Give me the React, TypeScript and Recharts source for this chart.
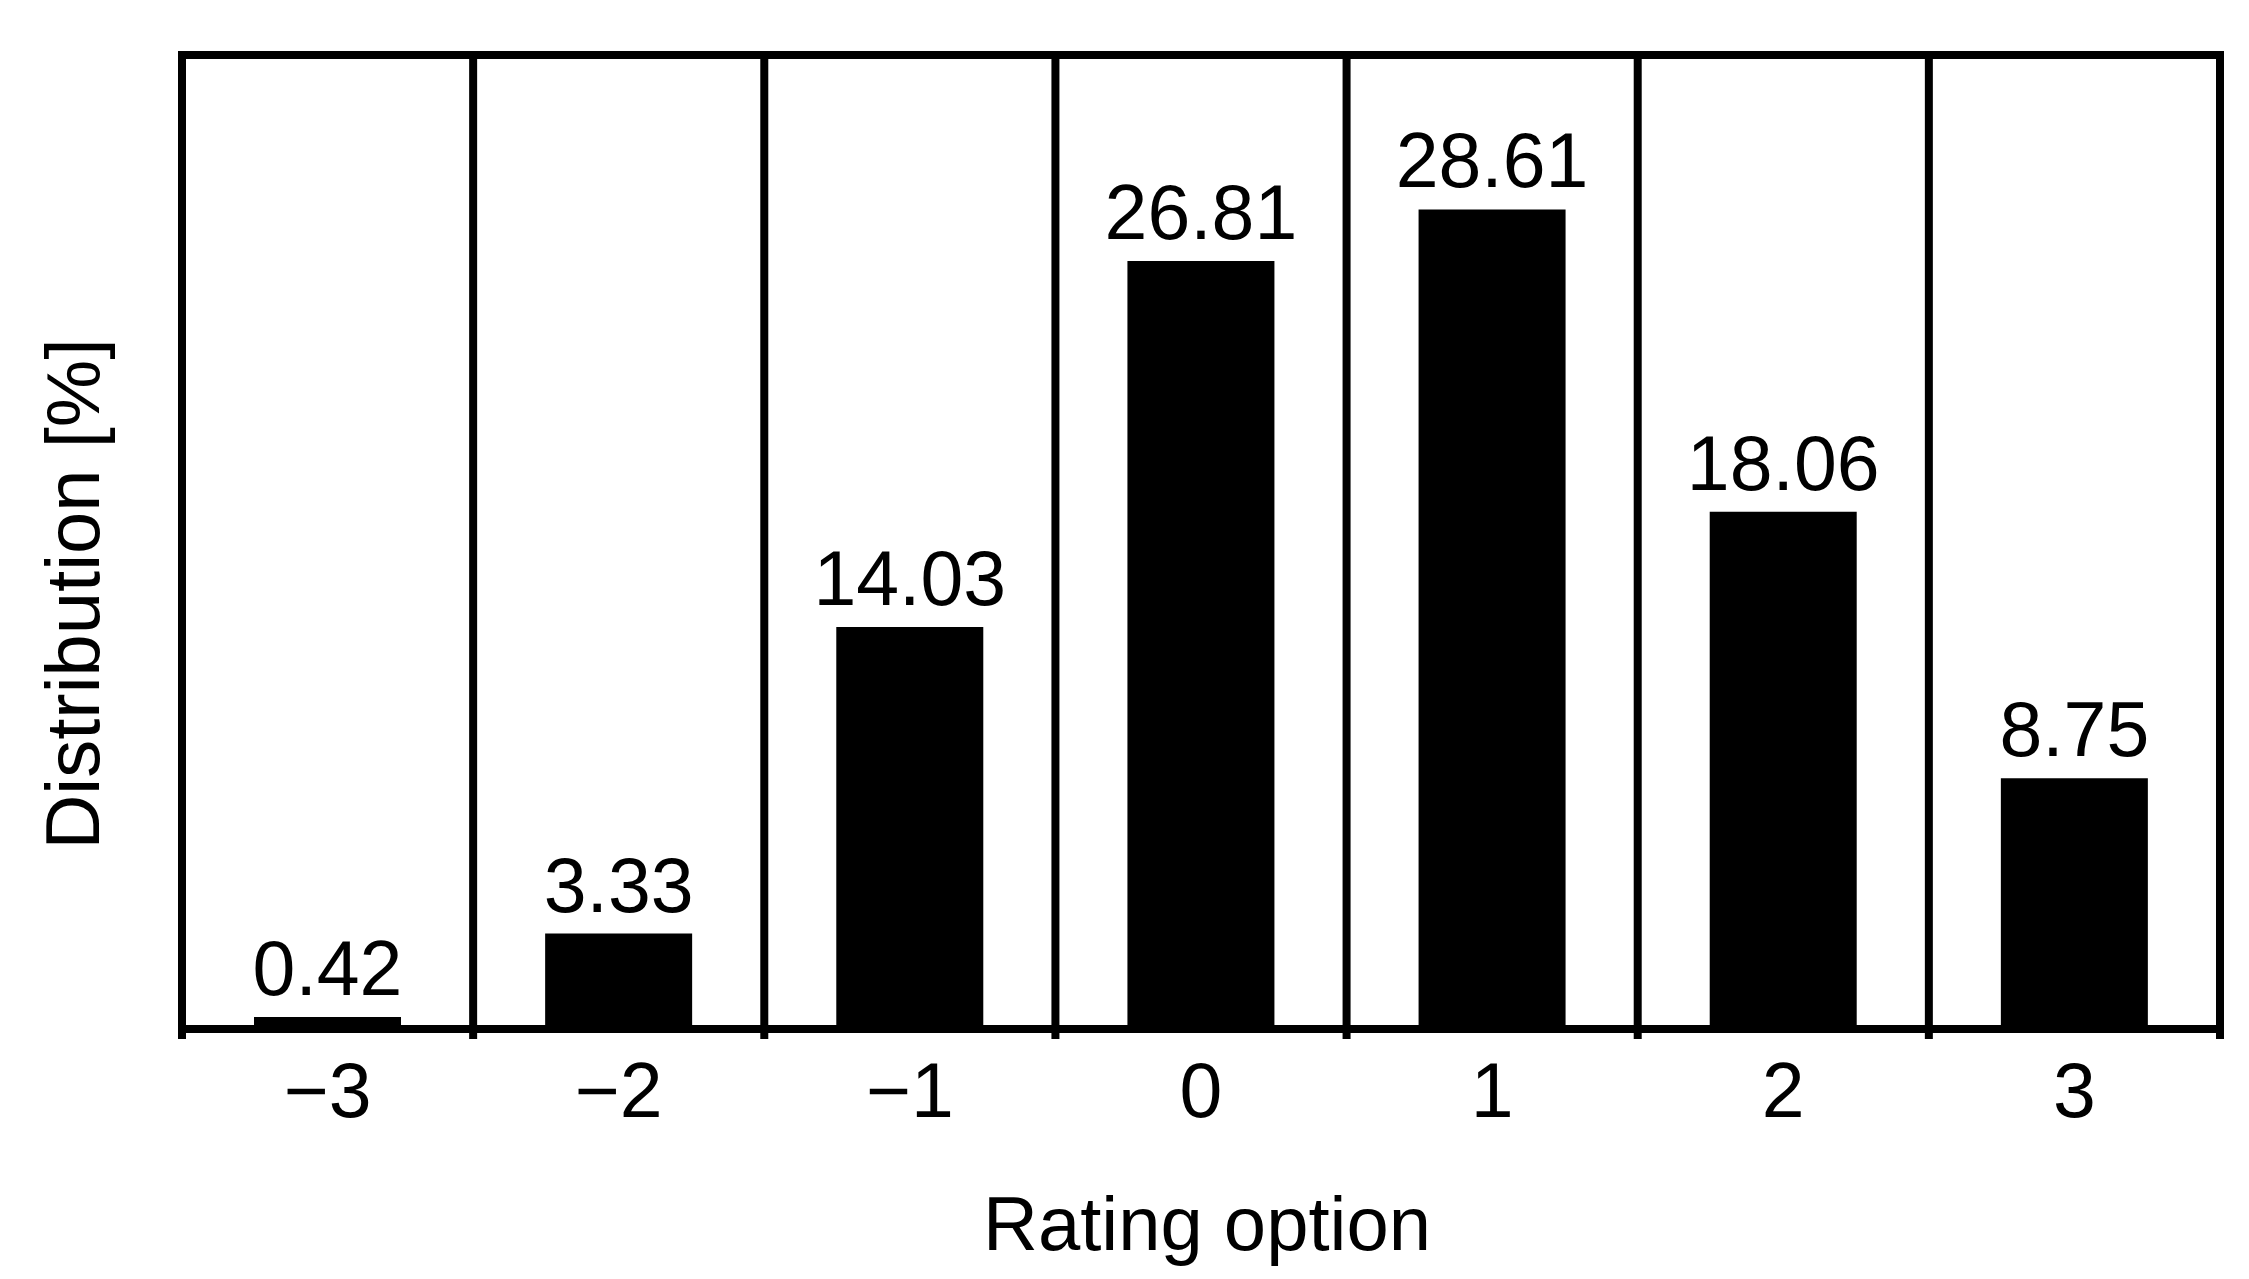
import React from 'react';
import {
  BarChart,
  Bar,
  XAxis,
  YAxis,
  LabelList,
  Label,
  ReferenceArea,
  ReferenceLine,
} from 'recharts';

const categories = ['−3', '−2', '−1', '0', '1', '2', '3'];
const distribution = [0.42, 3.33, 14.03, 26.81, 28.61, 18.06, 8.75];
const yMax = 34;
const xTitle = 'Rating option';
const yTitle = 'Distribution [%]';

const data = categories.map((c, i) => ({ rating: c, value: distribution[i] }));

const FONT = '"Liberation Sans", Arial, Helvetica, sans-serif';
const LINE = 8;
const TICK_LEN = 10;
const TITLE_SIZE = 76;

const XTitle = (props: any) => {
  const vb = props.viewBox || {};
  const x = vb.x + vb.width / 2 + 6;
  const y = vb.y + 221;
  return (
    <text x={x} y={y} textAnchor="middle" fontSize={TITLE_SIZE} fontFamily={FONT} fill="#000">
      {xTitle}
    </text>
  );
};

const YTitle = (props: any) => {
  const vb = props.viewBox || {};
  const x = vb.x + 99;
  const y = vb.y + vb.height / 2 + 52;
  return (
    <text
      x={x}
      y={y}
      transform={`rotate(-90 ${x} ${y})`}
      textAnchor="middle"
      fontSize={TITLE_SIZE}
      fontFamily={FONT}
      fill="#000"
    >
      {yTitle}
    </text>
  );
};

// Category boundary divider that continues below the plot as a tick mark
const BoundaryLine = (p: any) => {
  const top = Math.min(p.y1, p.y2);
  const bottom = Math.max(p.y1, p.y2);
  return (
    <line
      x1={p.x1}
      x2={p.x2}
      y1={top}
      y2={bottom + TICK_LEN}
      stroke="#000"
      strokeWidth={LINE}
    />
  );
};

export default function App() {
  return (
    <div style={{ position: 'absolute', left: 0, top: 0, width: 2249, height: 1279, background: '#fff' }}>
      <BarChart
        width={2249}
        height={1279}
        data={data}
        margin={{ top: 55, right: 29, bottom: 249, left: 0 }}
      >
        <XAxis
          dataKey="rating"
          height={1}
          axisLine={false}
          tickLine={false}
          tickSize={0}
          tickMargin={33}
          interval={0}
          tick={{ fontSize: 77, fill: '#000', fontFamily: FONT }}
        >
          <Label content={XTitle} />
        </XAxis>
        <YAxis
          domain={[0, yMax]}
          ticks={[0, yMax]}
          allowDataOverflow
          width={182}
          axisLine={false}
          tickLine={false}
          tick={false}
        >
          <Label content={YTitle} />
        </YAxis>
        <Bar dataKey="value" fill="#000" barSize={147} isAnimationActive={false}>
          <LabelList
            dataKey="value"
            position="top"
            offset={22}
            formatter={(v: any) => Number(v).toFixed(2)}
            fontSize={77}
            fontFamily={FONT}
            fill="#000"
          />
        </Bar>
        {categories.map((c) => (
          <ReferenceLine
            key={`b-${c}`}
            x={c}
            position="start"
            ifOverflow="visible"
            shape={BoundaryLine}
          />
        ))}
        <ReferenceLine
          x={categories[categories.length - 1]}
          position="end"
          ifOverflow="visible"
          shape={BoundaryLine}
        />
        <ReferenceArea
          y1={0}
          y2={yMax}
          fill="none"
          stroke="#000"
          strokeWidth={LINE}
          ifOverflow="visible"
        />
      </BarChart>
    </div>
  );
}
